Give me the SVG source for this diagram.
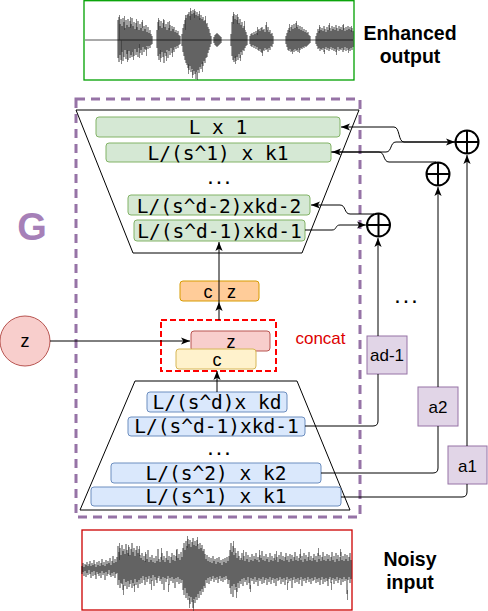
<svg xmlns="http://www.w3.org/2000/svg" width="488" height="611" viewBox="0 0 488 611">
<style>
.mono{font-family:"DejaVu Sans Mono",monospace;font-size:19.5px;fill:#000;text-anchor:middle}
.sans{font-family:"Liberation Sans",Arial,sans-serif;text-anchor:middle;fill:#000}
.bold{font-family:"Liberation Sans",Arial,sans-serif;font-weight:bold;text-anchor:middle;fill:#000}
.dots{font-family:"DejaVu Sans Mono",monospace;font-weight:bold;font-size:14px;text-anchor:middle;fill:#000}
.dec{fill:#d5e8d4;stroke:#82b366;stroke-width:1}
.enc{fill:#dae8fc;stroke:#6c8ebf;stroke-width:1}
.ab{fill:#e1d5e7;stroke:#9673a6;stroke-width:1}
.trap{fill:none;stroke:#000;stroke-width:1}
.edge{fill:none;stroke:#000;stroke-width:1}
.plus{fill:#fff;stroke:#000;stroke-width:2}
.wave{fill:none;stroke:#000;stroke-width:0.75}
.spike{fill:none;stroke:#333;stroke-width:0.6}
</style>
<defs>
<marker id="arr" viewBox="0 0 10 10" refX="10" refY="5" markerWidth="9" markerHeight="9" markerUnits="userSpaceOnUse" orient="auto"><path d="M0,1 L10,5 L0,9 L2.5,5 z" fill="#000"/></marker>
</defs>
<rect width="488" height="611" fill="#fff"/>

<g id="enhanced-output">
<rect x="84" y="0.7" width="270" height="79.3" fill="#fff" stroke="#00a000" stroke-width="1.3"/>
<path d="M85 40H353" stroke="#555" stroke-width="1" fill="none"/>
<path class="wave" d="M118 20V58M119 17V62M120 24V55M121 19V60M122 26V52M123 18V61M124 22V57M125 28V50M126 20V59M127 25V54M128 19V60M129 27V51M130 21V58M131 24V55M132 18V57M133 26V52M134 22V56M135 29V49M136 23V55M137 27V52M138 21V57M139 30V48M140 24V53M141 28V50M142 22V55M143 31V47M144 26V52M145 29V49M146 25V50M147 32V46M148 27V49M149 33V46M150 30V48M151 34V45M152 36V44
M157 30V48M158 22V56M159 20V60M160 26V54M161 21V58M162 28V52M163 23V57M164 20V63M165 27V53M166 24V56M167 30V50M168 22V58M169 28V51M170 25V55M171 31V48M172 26V53M173 29V50M174 27V52M175 32V47M176 30V49M177 33V46M178 31V48M179 35V45M180 36V44
M182 34V46M183 28V52M184 24V56M185 20V60M186 18V63M187 15V65M188 14V68M189 12V70M190 16V66M191 11V72M192 14V69M193 10V75M194 13V71M195 11V74M196 15V79M197 12V72M198 16V70M199 14V73M200 18V67M201 15V69M202 19V64M203 17V66M204 21V61M205 20V63M206 24V58M207 23V57M208 27V53M209 29V50M210 33V47M211 36V44
M214 37V43M215 35V45M216 34V46M217 33V47M218 34V46M219 35V45M220 36V44M221 37V43
M231 34V46M232 22V56M233 16V60M234 14V62M235 19V58M236 15V61M237 20V57M238 17V60M239 23V54M240 19V58M241 25V52M242 22V55M243 28V50M244 26V51M245 30V48M246 32V46M247 35V45
M250 36V44M251 34V46M252 33V47M253 35V45M254 32V48M255 34V46M256 31V49M257 33V47M258 30V50M259 29V51M260 31V49M261 28V52M262 27V53M263 30V50M264 29V51M265 32V48M266 25V50M267 30V49M268 27V52M269 32V48M270 30V50M271 34V46M272 33V47M273 36V44
M286 36V44M287 33V47M288 30V50M289 28V51M290 31V49M291 27V52M292 25V51M293 29V50M294 24V52M295 28V49M296 23V51M297 27V50M298 25V52M299 29V48M300 26V50M301 30V48M302 27V49M303 31V47M304 29V48M305 32V46M306 30V47M307 33V46M308 32V45M309 35V44M310 36V43
M316 36V44M317 33V46M318 29V49M319 31V48M320 27V51M321 30V49M322 28V50M323 31V48M324 26V52M325 29V49M326 32V47M327 27V50M328 30V48M329 25V51M330 28V49M331 31V47M332 26V50M333 29V48M334 27V51M335 30V49M336 25V52M337 28V50M338 31V47M339 26V51M340 29V49M341 27V50M342 30V48M343 25V52M344 28V50M345 31V47M346 27V51M347 30V48M348 26V50M349 29V49M350 27V51M351 30V48M352 28V50M353 31V47"/>
<path class="spike" d="M119.5 15V40M121.5 40V64M124.5 16V30M127.5 50V62M130.5 17V28M133.5 52V60M136.5 19V30M139.5 44V58M142.5 20V28M146.5 47V56M158.5 18V30M160.5 50V62M163.5 19V28M166.5 52V61M169.5 21V30M172.5 50V57M185.5 15V30M188.5 64V74M190.5 8V20M192.5 70V78M194.5 9V18M197.5 72V80M199.5 11V20M202.5 62V72M205.5 16V24M233.5 12V24M235.5 56V64M237.5 14V24M240.5 55V61M244.5 21V30M257.5 27V35M262.5 50V56M266.5 22V30M289.5 24V32M292.5 50V54M296.5 21V28M299.5 48V53M319.5 25V33M324.5 50V54M329.5 23V30M336.5 50V55M343.5 24V30M348.5 49V53M351.5 26V32"/>
<text class="bold" x="410" y="39.5" font-size="19.5">Enhanced</text>
<text class="bold" x="410" y="63" font-size="19.5">output</text>
</g>

<g id="noisy-input">
<rect x="82" y="530" width="270" height="80" fill="#fff" stroke="#cc0000" stroke-width="1.3"/>
<path class="wave" d="M82 566V574M83 563V572M84 567V576M85 564V571M86 565V577M87 562V573M88 566V575M89 564V570M90 561V574M91 566V578M92 563V572M93 565V576M94 560V571M95 564V575M96 567V579M97 562V572M98 565V574M99 561V576M100 566V573M101 563V578M102 559V571M103 565V575M104 562V573M105 566V580M106 560V572M107 564V576M108 561V574M109 563V570M110 558V575M111 565V577M112 561V573M113 556V576M114 563V572M115 559V578M116 562V574M117 557V573
M118 546V585M119 552V580M120 548V588M121 555V583M122 545V584M123 551V590M124 549V579M125 554V586M126 544V582M127 550V589M128 553V581M129 547V587M130 555V584M131 549V580M132 543V588M133 552V583M134 548V586M135 556V579M136 550V585M137 546V582M138 553V588M139 549V580M140 555V584
M141 558V578M142 553V583M143 560V576M144 556V580M145 561V585M146 554V577M147 559V582M148 550V579M149 562V576M150 557V584M151 560V578M152 555V581M153 562V575M154 558V586M155 563V577M156 556V580M157 561V583M158 549V578M159 559V576M160 562V581M161 557V579M162 553V584M163 560V577M164 556V590M165 562V578M166 558V582M167 551V579M168 560V576M169 556V585M170 563V578M171 557V581M172 553V577M173 560V583M174 555V579M175 561V588M176 556V578M177 549V582M178 558V577M179 554V584M180 560V579M181 552V583M182 557V580
M183 548V590M184 543V595M185 550V588M186 541V598M187 546V593M188 539V600M189 544V596M190 540V604M191 547V597M192 542V602M193 538V608M194 545V599M195 541V603M196 546V597M197 540V600M198 544V594M199 549V598M200 543V591M201 548V595M202 545V589M203 551V592M204 549V586M205 554V588
M206 559V580M207 555V583M208 561V578M209 557V584M210 562V577M211 558V581M212 563V579M213 556V576M214 561V582M215 559V578M216 564V580M217 558V577M218 562V583M219 557V579M220 563V576M221 560V581M222 565V578M223 559V582M224 562V577M225 558V580M226 563V576M227 557V579M228 561V584M229 556V580
M230 550V588M231 543V594M232 552V586M233 546V597M234 555V584M235 548V590M236 553V587M237 558V592M238 551V583M239 556V588M240 560V581
M241 558V584M242 553V579M243 560V586M244 556V578M245 561V582M246 552V580M247 559V585M248 555V577M249 562V583M250 557V589M251 560V578M252 554V581M253 561V579M254 556V584M255 559V577M256 553V582M257 560V580M258 557V586M259 562V578M260 555V581M261 558V579M262 551V584M263 560V577M264 556V583M265 561V580M266 554V578M267 559V585M268 557V579M269 562V582M270 553V577M271 560V584M272 556V580M273 561V578M274 558V583M275 554V579M276 560V586M277 557V578M278 562V581M279 555V580M280 559V577M281 552V584M282 560V579M283 556V582M284 561V578M285 557V585M286 553V580M287 560V577M288 556V583M289 562V579M290 554V581M291 559V578M292 555V588M293 561V580M294 557V577M295 552V583M296 560V579M297 556V582M298 561V578M299 558V584M300 554V580M301 560V577M302 556V586M303 562V579M304 553V581M305 559V578M306 555V583M307 561V580M308 557V577M309 552V582M310 560V579M311 556V584M312 561V578M313 558V581M314 554V580M315 560V577M316 556V583M317 562V579M318 553V582M319 559V578M320 555V585M321 561V580M322 557V577M323 552V584M324 560V579M325 556V582M326 561V578M327 554V581M328 559V586M329 555V579M330 561V577M331 557V583M332 552V580M333 560V578M334 556V584M335 562V579M336 553V581M337 559V577M338 555V583M339 561V580M340 557V578M341 552V585M342 560V579M343 556V582M344 561V577M345 554V581M346 559V579M347 555V594M348 561V580M349 557V577M350 553V583M351 560V579"/>
<path class="spike" d="M119.5 543V560M123.5 585V595M128.5 545V556M134.5 584V592M139.5 546V556M145.5 552V562M151.5 580V590M161.5 548V560M168.5 584V592M176.5 550V560M187.5 536V548M193.5 600V612M189.5 598V608M197.5 537V546M233.5 541V552M236.5 588V598M243.5 550V560M250.5 585V592M259.5 550V560M276.5 551V560M287.5 582V590M300.5 549V558M318.5 548V556M331.5 582V590M340.5 549V556M347.5 590V600"/>
<text class="bold" x="410" y="566" font-size="19.5">Noisy</text>
<text class="bold" x="410" y="589" font-size="19.5">input</text>
</g>

<g id="G-frame">
<rect x="76" y="99" width="284" height="418" fill="none" stroke="#9673a6" stroke-width="3" stroke-dasharray="9 6"/>
<text class="bold" x="32" y="240" font-size="38" style="fill:#a680b8">G</text>
</g>

<g id="decoder">
<path class="trap" d="M76 110H359L302 253H133Z"/>
<g id="dec-L1"><rect class="dec" x="96" y="117" width="244" height="20" rx="3"/><text class="mono" x="218" y="134">L x 1</text></g>
<g id="dec-k1"><rect class="dec" x="106" y="143" width="225" height="19" rx="3"/><text class="mono" x="218" y="160">L/(s^1) x k1</text></g>
<text class="dots" x="219" y="184">...</text>
<g id="dec-kd2"><rect class="dec" x="128" y="195" width="182" height="20" rx="3"/><text class="mono" x="219" y="212.5">L/(s^d-2)xkd-2</text></g>
<g id="dec-kd1"><rect class="dec" x="134" y="220" width="171" height="21" rx="3"/><text class="mono" x="219.5" y="238">L/(s^d-1)xkd-1</text></g>
</g>

<g id="encoder">
<path class="trap" d="M135 381H297L350 510H80Z"/>
<g id="enc-kd"><rect class="enc" x="147" y="392" width="140" height="20" rx="3"/><text class="mono" x="217" y="409">L/(s^d)x kd</text></g>
<g id="enc-kd1"><rect class="enc" x="128" y="417" width="177" height="19" rx="3"/><text class="mono" x="216.5" y="433">L/(s^d-1)xkd-1</text></g>
<text class="dots" x="219" y="455">...</text>
<g id="enc-k2"><rect class="enc" x="111" y="463" width="210" height="20" rx="3"/><text class="mono" x="216" y="480">L/(s^2) x k2</text></g>
<g id="enc-k1"><rect class="enc" x="91" y="487" width="250" height="19" rx="3"/><text class="mono" x="216" y="503">L/(s^1) x k1</text></g>
</g>

<g id="cz">
<rect x="180" y="281" width="79" height="20" rx="3" fill="#ffcc99" stroke="#d79b00"/>
<text class="sans" x="208" y="298" font-size="18">c</text>
<text class="sans" x="231.5" y="298" font-size="18">z</text>
</g>

<g id="concat">
<rect x="161" y="320" width="115" height="51" fill="none" stroke="#ff0000" stroke-width="2" stroke-dasharray="6 3"/>
<g id="concat-z"><rect x="191" y="331" width="79" height="20" rx="3" fill="#f8cecc" stroke="#b85450"/><text class="sans" x="231" y="348" font-size="18">z</text></g>
<g id="concat-c"><rect x="176" y="349" width="80" height="20" rx="3" fill="#fff2cc" stroke="#d6b656"/><text class="sans" x="217" y="366" font-size="18">c</text></g>
<text class="sans" x="320.5" y="344" font-size="17" style="fill:#dd0000">concat</text>
</g>

<g id="z-input">
<circle cx="25" cy="341" r="25" fill="#f8cecc" stroke="#b85450"/>
<text class="sans" x="25" y="347" font-size="18">z</text>
</g>

<g id="a-d1"><rect class="ab" x="367" y="336" width="40" height="38"/><text class="sans" x="387" y="361" font-size="17">ad-1</text></g>
<g id="a-2"><rect class="ab" x="418" y="387" width="40" height="39"/><text class="sans" x="438" y="413" font-size="17">a2</text></g>
<g id="a-1"><rect class="ab" x="448" y="446" width="39" height="38"/><text class="sans" x="467.5" y="472" font-size="17">a1</text></g>
<text class="dots" x="406" y="303">...</text>

<g id="sum-1"><circle class="plus" cx="467" cy="142" r="11.5"/><path d="M455.5 142H478.5M467 130.5V153.5" stroke="#000" stroke-width="2"/></g>
<g id="sum-2"><circle class="plus" cx="438" cy="174" r="11.5"/><path d="M426.5 174H449.5M438 162.5V185.5" stroke="#000" stroke-width="2"/></g>
<g id="sum-3"><circle class="plus" cx="378.5" cy="225" r="11.5"/><path d="M367 225H390M378.5 213.5V236.5" stroke="#000" stroke-width="2"/></g>

<g id="connectors">
<path class="edge" d="M50 341H190" marker-end="url(#arr)"/>
<path class="edge" d="M217 392V371" marker-end="url(#arr)"/>
<path class="edge" d="M219 320V302" marker-end="url(#arr)"/>
<path class="edge" d="M219 302V242" marker-end="url(#arr)"/>
<path class="edge" d="M305 426H373Q378 426 378 421V374"/>
<path class="edge" d="M378 336V238" marker-end="url(#arr)"/>
<path class="edge" d="M321 473H433Q438 473 438 468V426"/>
<path class="edge" d="M438 387V187" marker-end="url(#arr)"/>
<path class="edge" d="M341 497H462Q467 497 467 492V484"/>
<path class="edge" d="M467 446V155" marker-end="url(#arr)"/>
<path class="edge" d="M305 230H332C337 230 335 225 340 225H366" marker-end="url(#arr)"/>
<path class="edge" d="M374 214H350C344 214 346 205 340 205H311" marker-end="url(#arr)"/>
<path class="edge" d="M331 152H386C392 152 390 142 396 142H455" marker-end="url(#arr)"/>
<path class="edge" d="M455 142H404C398 142 400 127 394 127H341" marker-end="url(#arr)"/>
<path class="edge" d="M436 162H389C383 162 385 152 379 152H332" marker-end="url(#arr)"/>
</g>
</svg>
